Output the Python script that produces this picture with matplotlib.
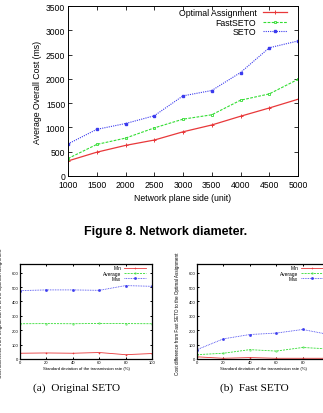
import matplotlib

matplotlib.use("Agg")
import matplotlib.pyplot as plt

W, H = 323, 414

# main chart: network diameter
plane_side = [1000, 1500, 2000, 2500, 3000, 3500, 4000, 4500, 5000]
optimal_cost = [310, 490, 630, 740, 910, 1050, 1230, 1400, 1580]
fastseto_cost = [360, 650, 780, 990, 1170, 1260, 1560, 1690, 1990]
seto_cost = [660, 960, 1080, 1240, 1650, 1760, 2130, 2640, 2780]

# sub charts: std deviation of transmission rate
std_dev = [0, 20, 40, 60, 80, 100]
orig_min = [40, 42, 40, 45, 30, 38]
orig_avg = [245, 246, 245, 247, 246, 245]
orig_max = [475, 480, 480, 477, 510, 505]
fast_min = [15, 5, 10, 5, 5, 5]
fast_avg = [30, 40, 65, 55, 80, 70]
fast_max = [65, 140, 170, 180, 205, 170]

RED = "#e8383a"
GREEN = "#33dd33"
BLUE = "#3b3bee"

plt.rcParams["font.family"] = ["Liberation Sans", "DejaVu Sans"]


def px_axes(fig, left, top, right, bottom):
    return fig.add_axes([left / W, 1 - bottom / H, (right - left) / W, (bottom - top) / H])


def style_box(ax, size, lw):
    ax.tick_params(direction="in", top=True, right=True, labelsize=size, width=lw * 0.8,
                   length=3 if size > 4 else 1.6, pad=2 if size > 4 else 1)
    for s in ax.spines.values():
        s.set_linewidth(lw)


fig = plt.figure(figsize=(W / 100, H / 100), dpi=100)

ax = px_axes(fig, 68, 7, 298, 177)
ax.plot(plane_side, optimal_cost, color=RED, lw=0.9, marker="+", ms=2.5, mew=0.7, label="Optimal Assignment")
ax.plot(plane_side, fastseto_cost, color=GREEN, lw=0.8, ls=(0, (2.5, 1.2)), marker="s", ms=1.5,
        mfc="none", mew=0.6, label="FastSETO")
ax.plot(plane_side, seto_cost, color=BLUE, lw=0.8, ls=(0, (1, 1)), marker="s", ms=1.6, label="SETO")
ax.set_xlim(1000, 5000)
ax.set_ylim(0, 3500)
ax.set_xticks(plane_side)
ax.set_yticks(range(0, 3501, 500))
ax.set_xlabel("Network plane side (unit)", fontsize=6.3, labelpad=2.5)
ax.set_ylabel("Average Overall Cost (ms)", fontsize=6.3, labelpad=3)
style_box(ax, 6.2, 0.7)
ax.tick_params(axis="x", pad=3)
ax.legend(loc="upper right", bbox_to_anchor=(287 / W, 1 - 9 / H), bbox_transform=fig.transFigure,
          frameon=False, markerfirst=False, fontsize=6.3, handlelength=2.8, handletextpad=0.7,
          labelspacing=0.08, borderpad=0, borderaxespad=0)

fig.text(166 / W, 1 - 232 / H, "Figure 8. Network diameter.", ha="center", va="center",
         fontsize=9, fontweight="bold")


def sub_chart(left, right, mins, avgs, maxs, legend_right):
    sax = px_axes(fig, left, 265, right, 360)
    sax.plot(std_dev, mins, color=RED, lw=0.6, marker="+", ms=1.2, mew=0.4, label="Min")
    sax.plot(std_dev, avgs, color=GREEN, lw=0.6, ls=(0, (2.5, 1.2)), marker="s", ms=0.9,
             mew=0.4, mfc="none", label="Average")
    sax.plot(std_dev, maxs, color=BLUE, lw=0.6, ls=(0, (1, 1)), marker="s", ms=0.9, label="Max")
    sax.set_xlim(0, 100)
    sax.set_ylim(0, 660)
    sax.set_xticks(std_dev)
    sax.set_yticks(range(0, 601, 100))
    sax.set_xlabel("Standard deviation of the transmission rate (%)", fontsize=3.1, labelpad=1.5)
    style_box(sax, 3, 0.9)
    sax.legend(loc="upper right", bbox_to_anchor=(legend_right / W, 1 - 266.5 / H),
               bbox_transform=fig.transFigure, frameon=False, markerfirst=False, fontsize=3.5,
               handlelength=4.5, handletextpad=0.6, labelspacing=0.05, borderpad=0, borderaxespad=0)
    return sax


sub_chart(20, 152, orig_min, orig_avg, orig_max, 146)
bax = sub_chart(197, 329, fast_min, fast_avg, fast_max, 323)
# the page crop cuts (b) off before its last tick label
bax.set_xticklabels([str(v) for v in std_dev[:-1]] + [""])

fig.text(1 / W, 1 - 313 / H, "Cost difference from Original SETO to the Optimal Assignment",
         rotation=90, ha="center", va="center", fontsize=3.3)
fig.text(177 / W, 1 - 314 / H, "Cost difference from Fast SETO to the Optimal Assignment",
         rotation=90, ha="center", va="center", fontsize=3.3)

serif = ["Liberation Serif", "DejaVu Serif"]
fig.text(77 / W, 1 - 388 / H, "(a)  Original SETO", ha="center", va="center", fontsize=8.2, family=serif)
fig.text(254 / W, 1 - 388 / H, "(b)  Fast SETO", ha="center", va="center", fontsize=8.2, family=serif)

fig.savefig("out.png", dpi=100)
